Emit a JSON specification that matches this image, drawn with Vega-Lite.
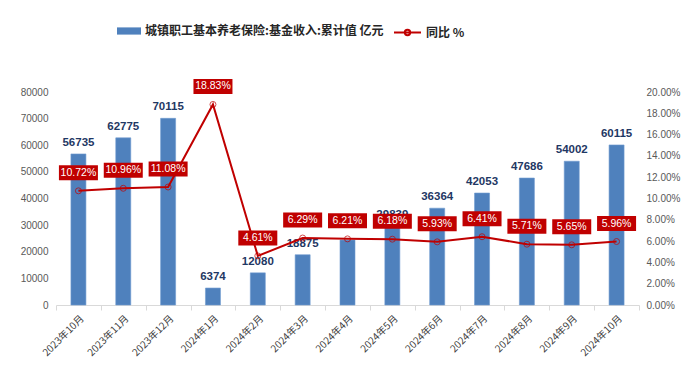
{
  "$schema": "https://vega.github.io/schema/vega-lite/v6.json",
  "width": 583,
  "height": 213,
  "autosize": {"type": "none"},
  "padding": {"left": 56, "top": 92, "right": 61, "bottom": 71},
  "background": "white",
  "config": {
    "view": {"stroke": null},
    "font": "Liberation Sans",
    "axis": {"labelFont": "Liberation Sans", "labelColor": "#595959", "grid": false},
    "legend": {"padding": 0}
  },
  "data": {
    "values": [
      {"m": "2023年10月", "v": 56735, "r": 0.1072},
      {"m": "2023年11月", "v": 62775, "r": 0.1096},
      {"m": "2023年12月", "v": 70115, "r": 0.1108},
      {"m": "2024年1月", "v": 6374, "r": 0.1883},
      {"m": "2024年2月", "v": 12080, "r": 0.0461},
      {"m": "2024年3月", "v": 18875, "r": 0.0629},
      {"m": "2024年4月", "v": 24400, "r": 0.0621},
      {"m": "2024年5月", "v": 29839, "r": 0.0618},
      {"m": "2024年6月", "v": 36364, "r": 0.0593},
      {"m": "2024年7月", "v": 42053, "r": 0.0641},
      {"m": "2024年8月", "v": 47686, "r": 0.0571},
      {"m": "2024年9月", "v": 54002, "r": 0.0565},
      {"m": "2024年10月", "v": 60115, "r": 0.0596}
    ]
  },
  "encoding": {
    "x": {
      "field": "m", "type": "nominal", "sort": null, "title": null,
      "scale": {"paddingInner": 0, "paddingOuter": 0},
      "axis": {
        "labelAngle": -45, "labelFont": "Noto Sans CJK SC", "labelFontSize": 10,
        "labelColor": "#404040", "domainColor": "#d9d9d9", "tickColor": "#d9d9d9",
        "tickBand": "extent", "tickSize": 5, "labelPadding": 3
      }
    }
  },
  "layer": [
    {
      "encoding": {
        "y": {
          "field": "v", "type": "quantitative", "title": null,
          "scale": {"domain": [0, 80000], "nice": false},
          "axis": {"values": [0, 10000, 20000, 30000, 40000, 50000, 60000, 70000, 80000], "format": "d",
                   "domain": false, "ticks": false, "labelFontSize": 10, "labelPadding": 8}
        }
      },
      "layer": [
        {
          "mark": {"type": "bar", "width": 15, "stroke": "#6f9ad0", "strokeWidth": 0.6},
          "encoding": {
            "color": {
              "datum": "城镇职工基本养老保险:基金收入:累计值 亿元",
              "scale": {"range": ["#4f81bd"]},
              "legend": {
                "orient": "none", "legendX": 61, "legendY": -73, "title": null,
                "symbolType": "M-1,-0.3H1V0.3H-1Z", "symbolSize": 576,
                "symbolStrokeWidth": 0, "labelFont": "Noto Sans CJK SC", "labelFontWeight": "bold",
                "labelFontSize": 12, "labelColor": "#262626", "labelOffset": 4, "labelLimit": 400
              }
            }
          }
        },
        {
          "transform": [{"filter": "datum.m != '2024年4月'"}],
          "mark": {"type": "text", "baseline": "bottom", "dy": -6, "fontWeight": "bold", "fontSize": 11.5, "color": "#1f3864"},
          "encoding": {"text": {"field": "v", "type": "quantitative", "format": "d"}}
        }
      ]
    },
    {
      "encoding": {
        "y": {
          "field": "r", "type": "quantitative", "title": null,
          "scale": {"domain": [0, 0.2], "nice": false},
          "axis": {"orient": "right", "values": [0, 0.02, 0.04, 0.06, 0.08, 0.1, 0.12, 0.14, 0.16, 0.18, 0.2], "format": ".2%",
                   "domain": false, "ticks": false, "labelFontSize": 10, "labelPadding": 7}
        }
      },
      "layer": [
        {
          "mark": {"type": "line", "strokeWidth": 2},
          "encoding": {
            "stroke": {
              "datum": "同比 %",
              "scale": {"range": ["#c00000"]},
              "legend": {
                "orient": "none", "legendX": 337, "legendY": -74, "title": null,
                "symbolType": "M-1,0H1M0.2,0A0.2,0.2,0,1,1,-0.2,0A0.2,0.2,0,1,1,0.2,0",
                "symbolSize": 729, "symbolStrokeWidth": 2, "symbolFillColor": "white",
                "labelFont": "Noto Sans CJK SC", "labelFontWeight": "bold",
                "labelFontSize": 12, "labelColor": "#262626", "labelOffset": 4
              }
            }
          }
        },
        {
          "mark": {"type": "point", "shape": "circle", "filled": false, "color": "#c00000", "size": 36, "strokeWidth": 1}
        },
        {
          "mark": {"type": "point", "shape": "M-1.3,-0.5H1.3V0.5H-1.3Z", "size": 900, "filled": true, "color": "#c00000", "opacity": 1, "yOffset": -18}
        },
        {
          "mark": {"type": "text", "color": "white", "fontSize": 10.5, "baseline": "middle", "yOffset": -18},
          "encoding": {"text": {"field": "r", "type": "quantitative", "format": ".2%"}}
        }
      ]
    }
  ],
  "resolve": {"scale": {"y": "independent"}}
}
